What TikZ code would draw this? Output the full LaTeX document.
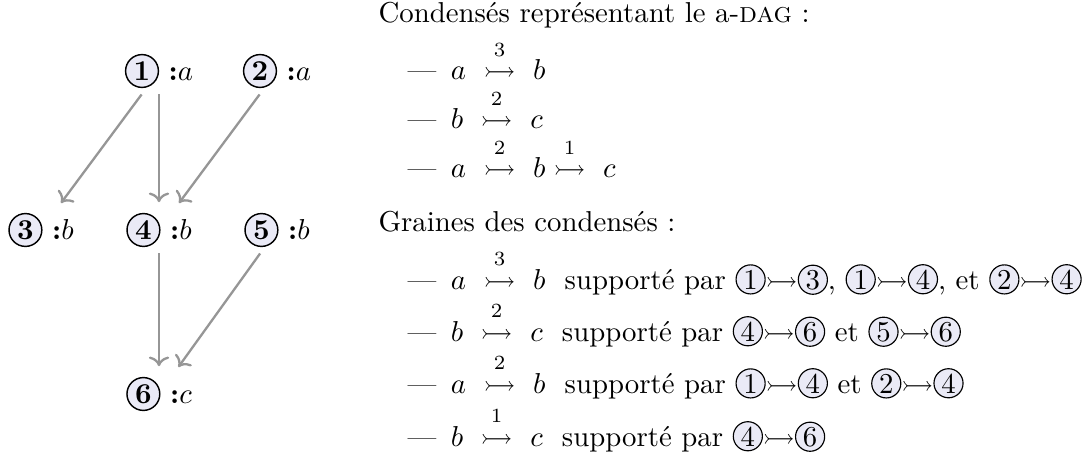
\documentclass[tikz,border=0pt]{standalone}
\usepackage{amsmath,amssymb}
\usetikzlibrary{arrows.meta}
\definecolor{lav}{RGB}{234,234,246}
\definecolor{edgegray}{RGB}{150,150,150}
\tikzset{
  gnode/.style={inner sep=2pt, anchor=center},
  edge/.style={draw=edgegray, line width=0.8pt, ->, shorten >=1.5pt},
  txt/.style={anchor=base west, inner sep=0pt},
}
\newcommand{\cbig}[1]{\tikz[baseline=(c.base)]\node[circle,draw,fill=lav,inner sep=0pt,minimum size=11.4pt,line width=0.5pt](c){\textbf{#1}};}
\newcommand{\csm}[1]{\tikz[baseline=(c.base)]\node[circle,draw,fill=lav,inner sep=0pt,minimum size=10.1pt,line width=0.4pt](c){#1};}
\newcommand{\dashlabel}{\makebox[1em][l]{---}\hspace{0.5em}}
\newcommand{\ra}{$\rightarrowtail$}
\newcommand{\sar}[1]{\stackrel{\raisebox{1pt}{$\scriptstyle #1$}}{\rightarrowtail}}
\begin{document}
\begin{tikzpicture}[x=0.3472pt,y=-0.3472pt]
\useasboundingbox (0,0) rectangle (1086,461);
% graph
\node[gnode] (n1) at (159,71) {\cbig{1}\ \textbf{:}$a$};
\node[gnode] (n2) at (277,71) {\cbig{2}\ \textbf{:}$a$};
\node[gnode] (n3) at (41,230) {\cbig{3}\ \textbf{:}$b$};
\node[gnode] (n4) at (159,230) {\cbig{4}\ \textbf{:}$b$};
\node[gnode] (n5) at (277,230) {\cbig{5}\ \textbf{:}$b$};
\node[gnode] (n6) at (159,394) {\cbig{6}\ \textbf{:}$c$};
\draw[edge] (n1) -- (n3);
\draw[edge] (n1) -- (n4);
\draw[edge] (n2) -- (n4);
\draw[edge] (n4) -- (n6);
\draw[edge] (n5) -- (n6);
% text
\node[txt] (t0) at (378,23) {Condensés représentant le a-\textsc{dag} :};
\node[txt] (t1) at (407,80) {\dashlabel$a\ \sar{3}\ b$};
\node[txt] (t2) at (407,129) {\dashlabel$b\ \sar{2}\ c$};
\node[txt] (t3) at (407,178) {\dashlabel$a\ \sar{2}\ b\sar{1}\ c$};
\node[txt] (t4) at (378,232) {Graines des condensés :};
\node[txt] (t5) at (407,289) {\dashlabel$a\ \sar{3}\ b$\ \ supporté par \csm{1}\ra\csm{3}, \csm{1}\ra\csm{4}, et \csm{2}\ra\csm{4}};
\node[txt] (t6) at (407,341) {\dashlabel$b\ \sar{2}\ c$\ \ supporté par \csm{4}\ra\csm{6} et \csm{5}\ra\csm{6}};
\node[txt] (t7) at (407,393) {\dashlabel$a\ \sar{2}\ b$\ \ supporté par \csm{1}\ra\csm{4} et \csm{2}\ra\csm{4}};
\node[txt] (t8) at (407,446) {\dashlabel$b\ \sar{1}\ c$\ \ supporté par \csm{4}\ra\csm{6}};
\end{tikzpicture}
\end{document}
